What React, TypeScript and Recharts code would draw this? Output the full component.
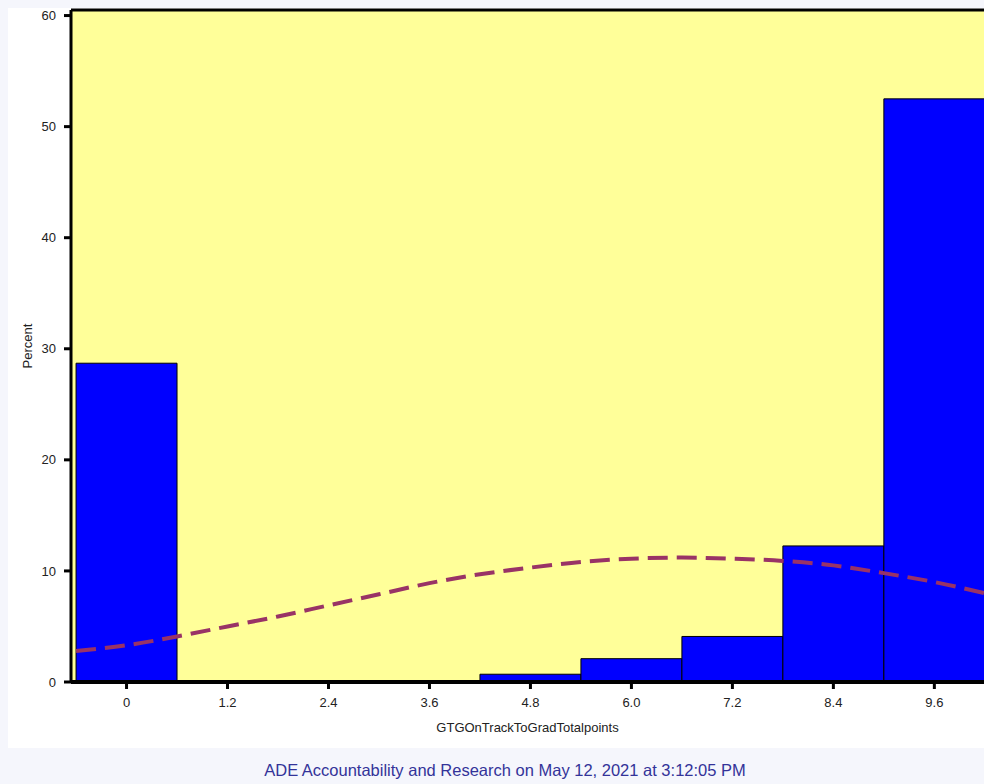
import React from "react";
import {
  ComposedChart,
  Line,
  XAxis,
  YAxis,
  CartesianGrid,
  ReferenceLine,
  ReferenceArea,
} from "recharts";

// histogram bins (bin centre, percent)
const binCenters = [0, 1.2, 2.4, 3.6, 4.8, 6.0, 7.2, 8.4, 9.6];
const binPercents = [28.7, 0, 0, 0, 0.7, 2.1, 4.1, 12.25, 52.5];
const binWidth = 1.2;

// normal curve
const curveX = [-0.6, 0, 0.6, 1.2, 1.8, 2.4, 3.0, 3.6, 4.2, 4.8, 5.4, 6.0, 6.6, 7.2, 7.8, 8.4, 9.0, 9.6, 10.2];
const curveY = [2.8, 3.3, 4.1, 5.0, 5.9, 6.9, 7.9, 8.9, 9.7, 10.3, 10.8, 11.1, 11.2, 11.1, 10.9, 10.5, 9.8, 9.0, 8.0];

const xTicks = ["0", "1.2", "2.4", "3.6", "4.8", "6.0", "7.2", "8.4", "9.6"];
const yTicks = [0, 10, 20, 30, 40, 50, 60];

const curve = curveX.map((x, i) => ({ x, pct: curveY[i] }));

const font = "'Liberation Sans', Arial, sans-serif";

export default function App() {
  return (
    <div
      style={{
        position: "absolute",
        top: 0,
        left: 0,
        width: 984,
        height: 784,
        background: "#f5f6fc",
        fontFamily: font,
        overflow: "hidden",
      }}
    >
      <div
        style={{
          position: "absolute",
          left: 8,
          top: 8,
          width: 976,
          height: 740,
          background: "#fff",
        }}
      />
      <div style={{ position: "absolute", left: 0, top: 0 }}>
        <ComposedChart
          width={984}
          height={748}
          data={curve}
          margin={{ top: 10, right: 0, bottom: 16, left: 11 }}
        >
          <CartesianGrid
            horizontal={false}
            vertical={false}
            fill="#ffff99"
            fillOpacity={1}
          />
          <XAxis
            dataKey="x"
            type="number"
            domain={[-0.66, 10.19]}
            ticks={xTicks.map(Number)}
            tickFormatter={(v: number) => xTicks[binCenters.indexOf(v)] ?? String(v)}
            allowDataOverflow
            height={50}
            interval={0}
            axisLine={{ stroke: "#000", strokeWidth: 4 }}
            tickLine={{ stroke: "#000", strokeWidth: 3 }}
            tickSize={7}
            tickMargin={9}
            tick={{ fill: "#222", fontSize: 13, fontFamily: font }}
            label={{
              value: "GTGOnTrackToGradTotalpoints",
              position: "insideBottom",
              offset: 0,
              fill: "#222",
              fontSize: 13,
              fontFamily: font,
            }}
          />
          <YAxis
            type="number"
            domain={[0, 60.5]}
            ticks={yTicks}
            allowDataOverflow
            width={60}
            interval={0}
            axisLine={{ stroke: "#000", strokeWidth: 3 }}
            tickLine={{ stroke: "#000", strokeWidth: 3 }}
            tickSize={7}
            tickMargin={8}
            tick={{ fill: "#222", fontSize: 13, fontFamily: font }}
            label={{
              value: "Percent",
              content: (props: any) => {
                const vb = props.viewBox || {};
                const cx = vb.x + 16;
                const cy = vb.y + vb.height / 2;
                return (
                  <text
                    x={cx}
                    y={cy}
                    transform={`rotate(-90 ${cx} ${cy})`}
                    textAnchor="middle"
                    dominantBaseline="central"
                    fill="#222"
                    fontSize={13}
                    fontFamily={font}
                  >
                    Percent
                  </text>
                );
              },
            }}
          />
          {binCenters.map((c, i) =>
            binPercents[i] > 0 ? (
              <ReferenceArea
                key={i}
                x1={c - binWidth / 2}
                x2={c + binWidth / 2}
                y1={0}
                y2={binPercents[i]}
                fill="#0000ff"
                fillOpacity={1}
                stroke="#000"
                strokeWidth={1}
                ifOverflow="visible"
              />
            ) : null
          )}
          <ReferenceLine y={60.5} stroke="#000" strokeWidth={3} ifOverflow="visible" />
          <Line
            dataKey="pct"
            type="monotone"
            stroke="#993366"
            strokeWidth={4}
            strokeDasharray="20 9"
            dot={false}
            activeDot={false}
            isAnimationActive={false}
          />
        </ComposedChart>
      </div>
      <div
        style={{
          position: "absolute",
          left: 0,
          top: 761,
          width: 1010,
          textAlign: "center",
          fontSize: 16.5,
          color: "#333399",
          fontFamily: font,
        }}
      >
        ADE Accountability and Research on May 12, 2021 at 3:12:05 PM
      </div>
    </div>
  );
}
